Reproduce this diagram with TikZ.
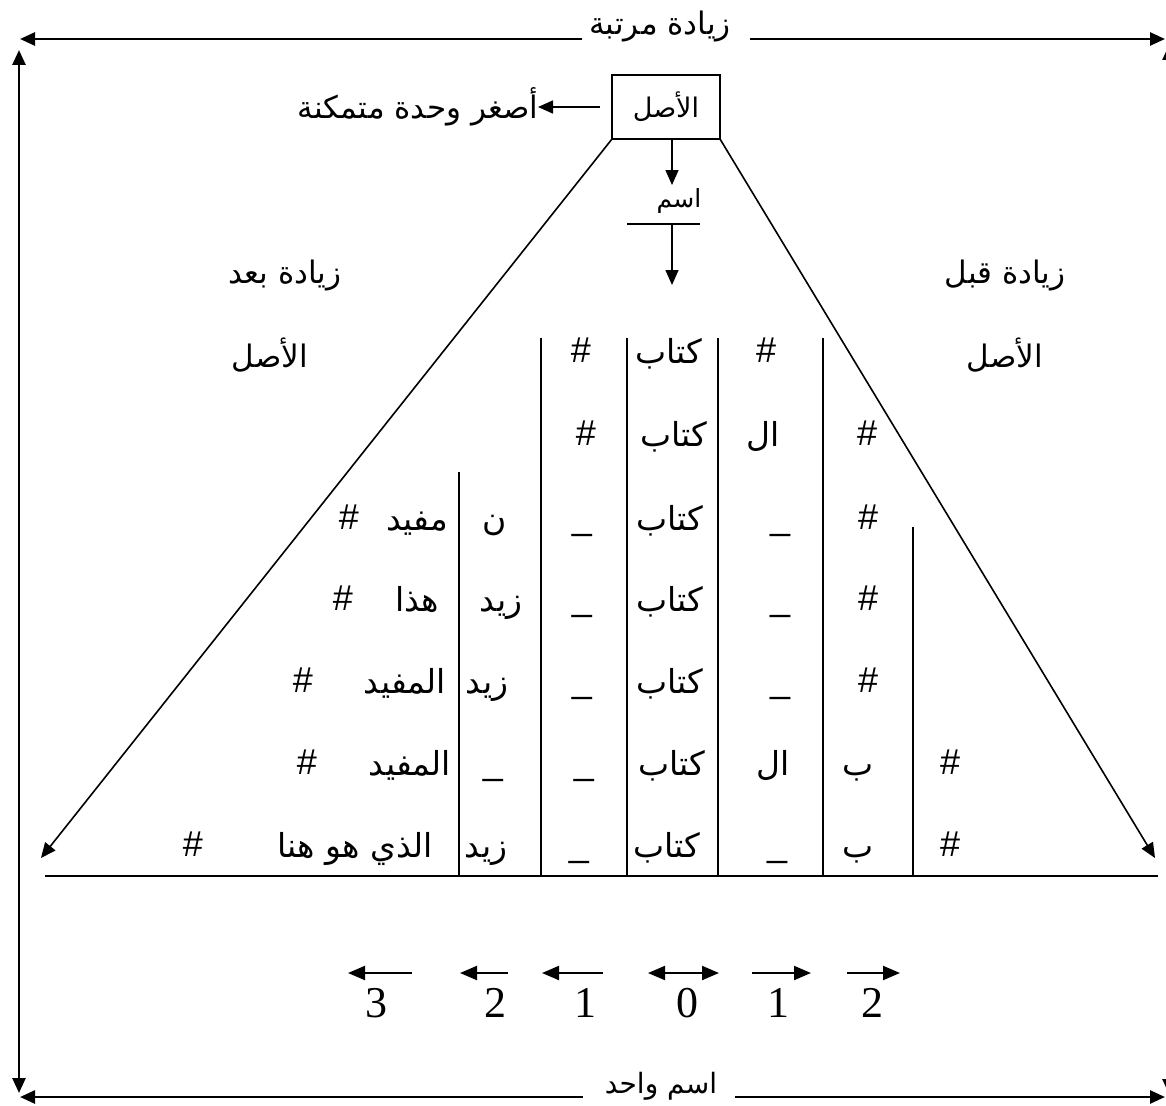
\documentclass[tikz,border=0pt]{standalone}
\usepackage{fontspec}
\setmainfont{Liberation Sans}
\newfontfamily\arfont[Script=Arabic]{DejaVu Sans}
\newfontfamily\tnrfont{Liberation Serif}
\TeXXeTstate=1
\usetikzlibrary{arrows.meta}
\newcommand\RL[1]{\beginR #1\endR}
\tikzset{
  bigtip/.style={-{Triangle[length=15pt,width=13pt]}},
  bigline/.style={line width=2.6pt},
  thin/.style={line width=1.6pt},
  lbl/.style={inner sep=0pt, outer sep=0pt, font=\arfont\fontsize{31}{35}\selectfont},
  botlbl/.style={inner sep=0pt, outer sep=0pt, font=\arfont\fontsize{28}{32}\selectfont},
  smalllbl/.style={inner sep=0pt, outer sep=0pt, font=\arfont\fontsize{25}{29}\selectfont},
  cell/.style={inner sep=0pt, outer sep=0pt, anchor=base, yshift=-3pt, font=\arfont\fontsize{33}{37}\selectfont},
  sym/.style={inner sep=0pt, outer sep=0pt, anchor=base, yshift=-2pt, font=\fontsize{36}{40}\selectfont},
  digit/.style={inner sep=0pt, outer sep=0pt, font=\tnrfont\fontsize{44}{48}\selectfont},
  rootbox/.style={draw, line width=1.6pt, minimum width=108pt, minimum height=64pt, inner sep=0pt, outer sep=0pt, font=\arfont\fontsize{27}{30}\selectfont},
  smallarr/.style={line width=2pt, -{Triangle[length=17pt,width=14pt]}},
}
\begin{document}
\begin{tikzpicture}[x=1pt,y=-1pt]
\useasboundingbox (0,0) rectangle (1166,1105);
\begin{scope}
\clip (0,0) rectangle (1166,1105);
% outer frame arrows
\node[lbl] (topl) at (660,27) {\RL{زيادة مرتبة}};
\coordinate (TL) at (20,39);
\coordinate (TR) at (1165,39);
\draw[bigline,bigtip] ([xshift=-7pt]topl.west |- TL) -- (TL);
\draw[bigline,bigtip] ([xshift=19pt]topl.east |- TR) -- (TR);
\node[botlbl] (botl) at (661,1086) {\RL{اسم واحد}};
\coordinate (BL) at (20,1097);
\coordinate (BR) at (1165,1097);
\draw[bigline,bigtip] ([xshift=-22pt]botl.west |- BL) -- (BL);
\draw[bigline,bigtip] ([xshift=18pt]botl.east |- BR) -- (BR);
\coordinate (VT) at (19,50);
\coordinate (VB) at (19,1093);
\draw[bigline,{Triangle[length=15pt,width=13pt]}-{Triangle[length=15pt,width=13pt]}] (VT) -- (VB);
\coordinate (RVT) at (1169,45);
\coordinate (RVB) at (1169,1094);
\draw[bigline,{Triangle[length=15pt,width=13pt]}-{Triangle[length=15pt,width=13pt]}] (RVT) -- (RVB);
\end{scope}

% root box
\node[rootbox] (asl) at (666,107) {\RL{الأصل}};
\node[lbl, anchor=east] (smallest) at (538,107) {\RL{أصغر وحدة متمكنة}};
\draw[thin,bigtip] ([xshift=-12pt]asl.west) -- (smallest.east);

% down arrows
\coordinate (a1) at (672,185);
\draw[thin,bigtip] (asl.south -| a1) -- (a1);
\node[smalllbl] (ism) at (679,201) {\RL{اسم}};
\coordinate (barL) at (627,224);
\coordinate (barR) at (700,224);
\draw[thin] (barL) -- (barR);
\coordinate (a2) at (672,285);
\draw[thin,bigtip] (barL -| a2) -- (a2);

% slanted sides
\coordinate (ltip) at (41,858);
\coordinate (rtip) at (1155,858);
\draw[thin,bigtip] (asl.south west) -- (ltip);
\draw[thin,bigtip] (asl.south east) -- (rtip);

% side labels
\node[lbl] (after1) at (285,276) {\RL{زيادة بعد}};
\node[lbl] (after2) at (270,355) {\RL{الأصل}};
\node[lbl] (before1) at (1005,276) {\RL{زيادة قبل}};
\node[lbl] (before2) at (1005,355) {\RL{الأصل}};

% table lines
\coordinate (baseL) at (45,876);
\coordinate (baseR) at (1158,876);
\draw[thin] (baseL) -- (baseR);
\foreach \x/\top in {459/472, 541/338, 627/338, 718/338, 823/338, 913/527}{
  \coordinate (vt\x) at (\x,\top);
  \draw[thin] (vt\x) -- (vt\x |- baseL);
}

% row 1 (baseline 360)
\node[sym] (r1a) at (581,360) {\#};
\node[cell] (r1b) at (669,360) {\RL{كتاب}};
\node[sym] (r1c) at (766,360) {\#};
% row 2 (baseline 443)
\node[sym] (r2a) at (586,443) {\#};
\node[cell] (r2b) at (674,443) {\RL{كتاب}};
\node[cell] (r2c) at (763,443) {\RL{ال}};
\node[sym] (r2d) at (867,443) {\#};
% row 3 (baseline 527)
\node[sym] (r3a) at (349,527) {\#};
\node[cell] (r3b) at (417,527) {\RL{مفيد}};
\node[cell] (r3c) at (495,527) {\RL{ن}};
\node[sym] (r3d) at (582,527) {\_};
\node[cell] (r3e) at (670,527) {\RL{كتاب}};
\node[sym] (r3f) at (780,527) {\_};
\node[sym] (r3g) at (868,527) {\#};
% row 4 (baseline 608)
\node[sym] (r4a) at (343,608) {\#};
\node[cell] (r4b) at (417,608) {\RL{هذا}};
\node[cell] (r4c) at (501,608) {\RL{زيد}};
\node[sym] (r4d) at (582,608) {\_};
\node[cell] (r4e) at (670,608) {\RL{كتاب}};
\node[sym] (r4f) at (780,608) {\_};
\node[sym] (r4g) at (868,608) {\#};
% row 5 (baseline 690)
\node[sym] (r5a) at (303,690) {\#};
\node[cell] (r5b) at (405,690) {\RL{المفيد}};
\node[cell] (r5c) at (487,690) {\RL{زيد}};
\node[sym] (r5d) at (582,690) {\_};
\node[cell] (r5e) at (670,690) {\RL{كتاب}};
\node[sym] (r5f) at (780,690) {\_};
\node[sym] (r5g) at (868,690) {\#};
% row 6 (baseline 772)
\node[sym] (r6a) at (307,772) {\#};
\node[cell] (r6b) at (410,772) {\RL{المفيد}};
\node[sym] (r6c) at (493,772) {\_};
\node[sym] (r6d) at (584,772) {\_};
\node[cell] (r6e) at (672,772) {\RL{كتاب}};
\node[cell] (r6f) at (773,772) {\RL{ال}};
\node[cell] (r6g) at (858,772) {\RL{ب}};
\node[sym] (r6h) at (950,772) {\#};
% row 7 (baseline 854)
\node[sym] (r7a) at (193,854) {\#};
\node[cell] (r7b) at (355,854) {\RL{الذي هو هنا}};
\node[cell] (r7c) at (486,854) {\RL{زيد}};
\node[sym] (r7d) at (579,854) {\_};
\node[cell] (r7e) at (667,854) {\RL{كتاب}};
\node[sym] (r7f) at (777,854) {\_};
\node[cell] (r7g) at (858,854) {\RL{ب}};
\node[sym] (r7h) at (950,854) {\#};

% direction arrows and digits
\node[digit] (d3) at (376,1003) {3};
\node[digit] (d2l) at (495,1003) {2};
\node[digit] (d1l) at (585,1003) {1};
\node[digit] (d0) at (687,1003) {0};
\node[digit] (d1r) at (778,1003) {1};
\node[digit] (d2r) at (872,1003) {2};
\coordinate (e3a) at (348,973); \coordinate (e3b) at (412,973);
\coordinate (e2a) at (460,973); \coordinate (e2b) at (508,973);
\coordinate (e1a) at (542,973); \coordinate (e1b) at (603,973);
\coordinate (e0a) at (648,973); \coordinate (e0b) at (719,973);
\coordinate (f1a) at (752,973); \coordinate (f1b) at (811,973);
\coordinate (f2a) at (847,973); \coordinate (f2b) at (900,973);
\draw[smallarr] (e3b) -- (e3a);
\draw[smallarr] (e2b) -- (e2a);
\draw[smallarr] (e1b) -- (e1a);
\draw[line width=2pt,{Triangle[length=17pt,width=14pt]}-{Triangle[length=17pt,width=14pt]}] (e0a) -- (e0b);
\draw[smallarr] (f1a) -- (f1b);
\draw[smallarr] (f2a) -- (f2b);
\end{tikzpicture}
\end{document}
